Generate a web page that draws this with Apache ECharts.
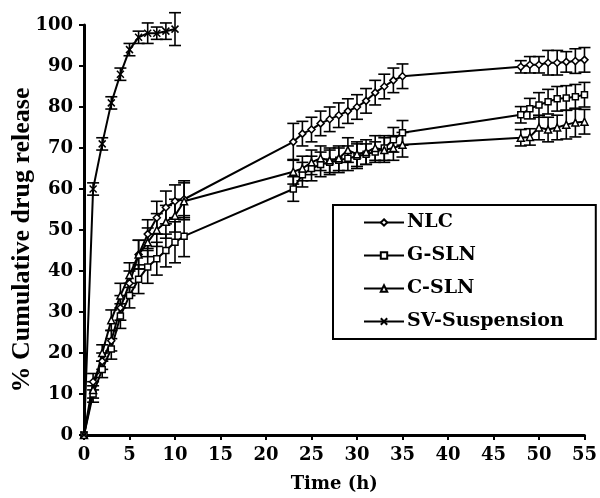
<!DOCTYPE html>
<html>
<head>
<meta charset="utf-8">
<script src="https://cdn.jsdelivr.net/npm/echarts@6/dist/echarts.min.js"></script>
<style>html,body{margin:0;padding:0;background:#fff}#c{width:600px;height:498px}</style>
</head>
<body>
<div id="c"></div>
<script>
// ---- data ----
const times = [0,1,2,3,4,5,6,7,8,9,10,11, 23,24,25,26,27,28,29,30,31,32,33,34,35, 48,49,50,51,52,53,54,55];
const nlc  = [0,13,18,23,31,37,44,49,53,55.5,57,57.5, 71.5,73.5,74.5,76,77,78,79,80,81.5,83.5,85,86.5,87.5, 89.8,90.3,90.3,90.8,90.8,91,91.2,91.5];
const gsln = [0,10,16,21,29,34,38,41,43,45,47,48.5, 60,63.5,65,66,66.5,67,67.5,68,68.5,69,70,72,73.7, 78.1,79.6,80.5,81.3,82,82.2,82.5,83];
const csln = [0,11,20,28,34,39,44,47,50,52,53.5,57, 64.2,65,66.5,67.5,67,67.5,69.5,68.5,69,70,69.5,70,70.8, 72.5,72.7,75,74.5,75,75.7,76.2,76.4];
const errNLC = [0,2,2,2.5,3,3,3.5,3.5,4,4,4,4.5, 4.5,3,3,3,3,3,3,3,3,3,3,3,3, 1.5,2,2,3,3,2.5,3,3];
const errG   = [0,2,2,2.5,3,3,3.5,4,4,4,5,5, 3,3,3,3,3,3,3,3,2.5,2.5,3,3,3, 2,2.5,3,3,3,3,3,3];
const errC   = [0,2,2,2.5,3,3,3.5,3.5,4,4,4,4.5, 3,3,3,3,3,3,3,3,3,3,3,3,3, 2,2,3,3,3,3.5,3.5,3];
const timesSV = [0,1,2,3,4,5,6,7,8,9,10];
const sv     = [0,60,71,81,88,94,97,98,98,98.5,99];
const errSV  = [0,1.5,1.5,1.5,1.5,1.5,1.5,2.5,1.5,2,4];
const xTicks = {min:0, max:55, interval:5};
const yTicks = {min:0, max:100, interval:10};
const names = ['NLC','G-SLN','C-SLN','SV-Suspension'];

// ---- build ----
const pts = (xs, ys) => xs.map((x,i)=>[x, ys[i]]);
const errs = (xs, ys, es) => xs.map((x,i)=>[x, ys[i]-es[i], ys[i]+es[i]]);
const crossPath = 'path://M0,0L10,10M10,0L0,10';
function errRender(params, api){
  const x = api.value(0), lo = api.value(1), hi = api.value(2);
  if (hi - lo <= 0) return null;
  const a = api.coord([x, hi]), b = api.coord([x, lo]);
  const w = 6;
  const st = {stroke:'#000', lineWidth:1.6};
  return {type:'group', children:[
    {type:'line', shape:{x1:a[0],y1:a[1],x2:b[0],y2:b[1]}, style:st},
    {type:'line', shape:{x1:a[0]-w,y1:a[1],x2:a[0]+w,y2:a[1]}, style:st},
    {type:'line', shape:{x1:b[0]-w,y1:b[1],x2:b[0]+w,y2:b[1]}, style:st}
  ]};
}
const lineSeries = (name, data, symbol, size, fill) => ({
  name, type:'line', data, symbol, symbolSize:size, showAllSymbol:true,
  lineStyle:{color:'#000', width:2},
  itemStyle:{color:fill, borderColor:'#000', borderWidth:1.5},
  emphasis:{disabled:true}, z:3, animation:false
});
const errSeries = (data) => ({
  type:'custom', renderItem:errRender, data, encode:{x:0, y:[1,2]}, z:2, clip:false, silent:true, animation:false
});
const axisFont = {fontFamily:'DejaVu Serif', fontWeight:'bold', fontSize:18, color:'#000'};
const chart = echarts.init(document.getElementById('c'));
chart.setOption({
  backgroundColor:'#fff',
  animation:false,
  grid:{left:84, right:13, top:25, bottom:62},
  xAxis:{type:'value', min:xTicks.min, max:xTicks.max, interval:xTicks.interval,
    name:'Time (h)', nameLocation:'middle', nameGap:40, nameTextStyle:axisFont,
    axisLine:{onZero:false, lineStyle:{color:'#000', width:3}},
    axisTick:{inside:false, length:5, lineStyle:{color:'#000', width:2}},
    axisLabel:Object.assign({margin:11}, axisFont),
    splitLine:{show:false}},
  yAxis:{type:'value', min:yTicks.min, max:yTicks.max, interval:yTicks.interval,
    axisLine:{show:true, onZero:false, lineStyle:{color:'#000', width:3}},
    axisTick:{show:true, inside:false, length:5, lineStyle:{color:'#000', width:2}},
    axisLabel:Object.assign({margin:11}, axisFont),
    splitLine:{show:false}},
  graphic:[{type:'text', x:22, y:240, rotation:Math.PI/2,
    style:{text:'% Cumulative drug release', font:'bold 26px "Liberation Serif"', fill:'#000', textAlign:'center', textVerticalAlign:'middle'}}],
  legend:{orient:'vertical', left:333, top:205, data:names,
    padding:[8,32,8,30], itemGap:14, itemWidth:40, itemHeight:8,
    borderColor:'#000', borderWidth:2, backgroundColor:'#fff',
    textStyle:{fontFamily:'DejaVu Serif', fontWeight:'bold', fontSize:19, color:'#000', padding:[0,0,0,-2]},
    selectedMode:false},
  series:[
    errSeries(errs(times, nlc, errNLC)),
    errSeries(errs(times, gsln, errG)),
    errSeries(errs(times, csln, errC)),
    errSeries(errs(timesSV, sv, errSV)),
    lineSeries('NLC', pts(times, nlc), 'diamond', 7, '#fff'),
    lineSeries('G-SLN', pts(times, gsln), 'rect', 6, '#fff'),
    lineSeries('C-SLN', pts(times, csln), 'triangle', 7, '#fff'),
    lineSeries('SV-Suspension', pts(timesSV, sv), crossPath, 7, '#000')
  ]
});
</script>
</body>
</html>
